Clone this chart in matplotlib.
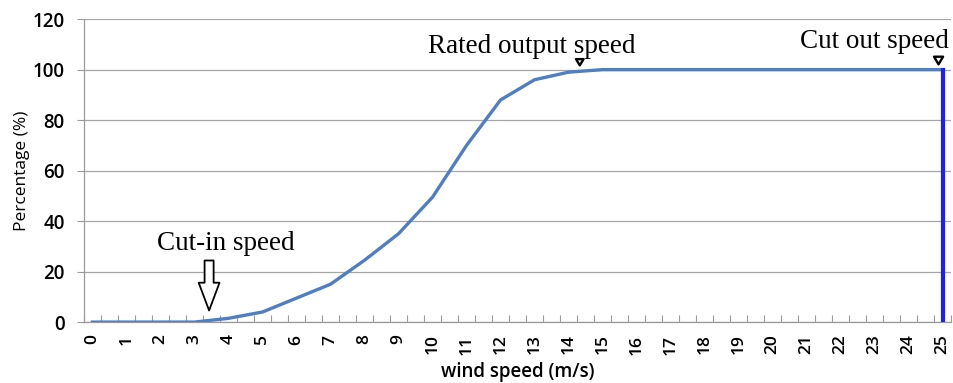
import matplotlib
matplotlib.use("Agg")
import matplotlib.pyplot as plt
import numpy as np

# Power curve: percentage of rated output vs wind speed
wind_speed = list(range(0, 26))
percentage = [0, 0, 0, 0, 1.5, 4, 9.5, 15, 24.5, 35, 49.5, 70, 88, 96, 99, 100,
              100, 100, 100, 100, 100, 100, 100, 100, 100, 100]
tick_labels = [str(v) for v in wind_speed]

cut_in_speed = 3.43
rated_speed = 14.33
cut_out_speed = 25

fig = plt.figure(figsize=(9.54, 3.83), dpi=100)
ax = fig.add_axes([0.088, 0.159, 0.909, 0.791])

sans = ["Open Sans", "DejaVu Sans"]
serif = ["Liberation Serif", "DejaVu Serif"]

ax.plot(wind_speed, percentage, color="#4F7EC2", lw=2.4, solid_joinstyle="round", zorder=3)
ax.plot([cut_out_speed, cut_out_speed], [0, 100], color="#1E1EF5", lw=3.0, zorder=4)

ax.set_xlim(-0.25, 25.2)
ax.set_ylim(0, 120)
ax.set_yticks(np.arange(0, 121, 20))
ax.set_xticks(wind_speed)
ax.set_xticklabels(tick_labels, rotation=90, fontsize=12.5, family=sans, fontweight="semibold")
ax.set_xticks(np.arange(-0.25, 25.3, 0.5), minor=True)
ax.tick_params(axis="x", which="major", length=0, pad=9)
ax.tick_params(axis="x", which="minor", length=5, width=0.8, color="#9a9a9a", direction="in")
ax.tick_params(axis="y", length=5, width=0.8, color="#9a9a9a", labelsize=13.5, pad=9)
for t in ax.get_yticklabels():
    t.set_family(sans)
    t.set_fontweight("semibold")

ax.grid(axis="y", color="#a6a6a6", lw=0.9)
ax.set_axisbelow(True)
for s in ["top", "right"]:
    ax.spines[s].set_visible(False)
for s in ["left", "bottom"]:
    ax.spines[s].set_color("#9a9a9a")
    ax.spines[s].set_linewidth(0.9)

ax.set_ylabel("Percentage (%)", fontsize=12.5, family=sans, labelpad=2)
ax.set_xlabel("wind speed (m/s)", fontsize=13.5, family=sans, fontweight="semibold", labelpad=5)

arrow_style = dict(fc="white", ec="black", lw=1.3)
small_arrow_style = dict(fc="white", ec="black", lw=1.7)

# Cut-in annotation
ax.text(3.93, 28.5, "Cut-in speed", family=serif, fontsize=19.5, ha="center", va="baseline")
ax.annotate("", xy=(cut_in_speed, 3.5), xytext=(cut_in_speed, 25.5),
            arrowprops=dict(arrowstyle="simple,head_width=1.5,head_length=2.0,tail_width=0.65",
                            **arrow_style), annotation_clip=False)

# Rated output annotation
ax.text(12.92, 106.5, "Rated output speed", family=serif, fontsize=19.5, ha="center",
        va="baseline", clip_on=False)
ax.annotate("", xy=(rated_speed, 100.6), xytext=(rated_speed, 103.8),
            arrowprops=dict(arrowstyle="simple,head_width=0.55,head_length=0.45,tail_width=0.28",
                            **small_arrow_style), annotation_clip=False)

# Cut-out annotation
ax.text(22.99, 108.5, "Cut out speed", family=serif, fontsize=19.5, ha="center",
        va="baseline", clip_on=False)
ax.annotate("", xy=(24.88, 101), xytext=(24.88, 105.7),
            arrowprops=dict(arrowstyle="simple,head_width=0.65,head_length=0.55,tail_width=0.32",
                            **small_arrow_style), annotation_clip=False)

fig.savefig("out.png", dpi=100)
